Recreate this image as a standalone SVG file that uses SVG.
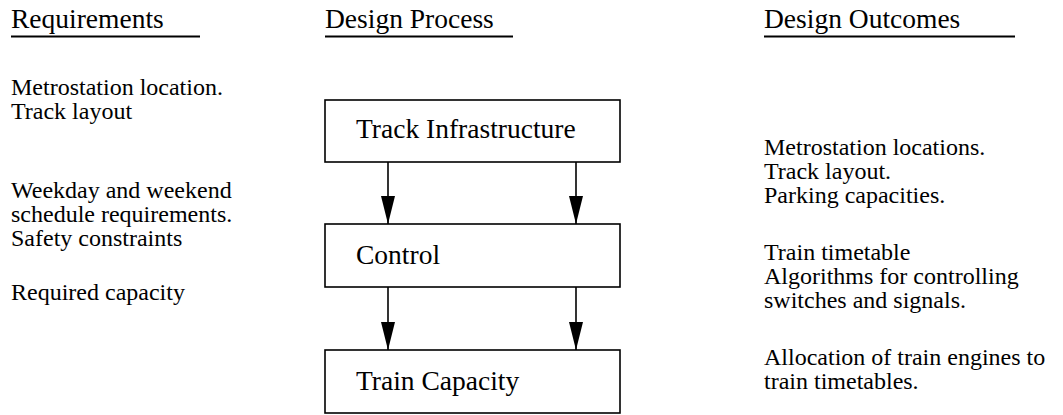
<svg xmlns="http://www.w3.org/2000/svg" width="1063" height="415" viewBox="0 0 1063 415">
<defs>
<style>
text{font-family:'Liberation Serif','Times New Roman',serif;fill:#000}
.t{font-size:24px}
.hd{font-size:27.5px}
.lbl{font-size:27.5px}
.ul{stroke:#000;stroke-width:2}
.box{fill:#fff;stroke:#000;stroke-width:1.6}
.conn{stroke:#000;stroke-width:1.6;fill:none}
</style>
<marker id="ah" markerWidth="28" markerHeight="14" refX="28" refY="7" orient="auto" markerUnits="userSpaceOnUse" viewBox="0 0 28 14">
<path d="M0,0 L28,7 L0,14 Z" fill="#000"/>
</marker>
</defs>
<rect width="1063" height="415" fill="#fff"/>
<g id="headers">
<text class="hd" x="11" y="28">Requirements</text>
<line class="ul" x1="11" y1="36.5" x2="200" y2="36.5"/>
<text class="hd" x="325" y="28">Design Process</text>
<line class="ul" x1="325" y1="36.5" x2="513" y2="36.5"/>
<text class="hd" x="764" y="28">Design Outcomes</text>
<line class="ul" x1="764" y1="36.5" x2="1015" y2="36.5"/>
</g>
<g id="requirements">
<text class="t" x="11" y="95">Metrostation location.</text>
<text class="t" x="11" y="119">Track layout</text>
<text class="t" x="11" y="198">Weekday and weekend</text>
<text class="t" x="11" y="222">schedule requirements.</text>
<text class="t" x="11" y="246">Safety constraints</text>
<text class="t" x="11" y="300">Required capacity</text>
</g>
<g id="outcomes">
<text class="t" x="764" y="155">Metrostation locations.</text>
<text class="t" x="764" y="179">Track layout.</text>
<text class="t" x="764" y="203">Parking capacities.</text>
<text class="t" x="764" y="260">Train timetable</text>
<text class="t" x="764" y="284">Algorithms for controlling</text>
<text class="t" x="764" y="308">switches and signals.</text>
<text class="t" x="764" y="365">Allocation of train engines to</text>
<text class="t" x="764" y="389">train timetables.</text>
</g>
<g id="node-track">
<rect class="box" x="325" y="100" width="295" height="62"/>
<text class="lbl" x="356" y="138">Track Infrastructure</text>
</g>
<g id="node-control">
<rect class="box" x="325" y="224" width="295" height="63"/>
<text class="lbl" x="356" y="264">Control</text>
</g>
<g id="node-capacity">
<rect class="box" x="325" y="350" width="295" height="63"/>
<text class="lbl" x="356" y="390">Train Capacity</text>
</g>
<g id="connectors">
<line class="conn" x1="388" y1="162" x2="388" y2="224" marker-end="url(#ah)"/>
<line class="conn" x1="576" y1="162" x2="576" y2="224" marker-end="url(#ah)"/>
<line class="conn" x1="388" y1="287" x2="388" y2="350" marker-end="url(#ah)"/>
<line class="conn" x1="576" y1="287" x2="576" y2="350" marker-end="url(#ah)"/>
</g>
</svg>
